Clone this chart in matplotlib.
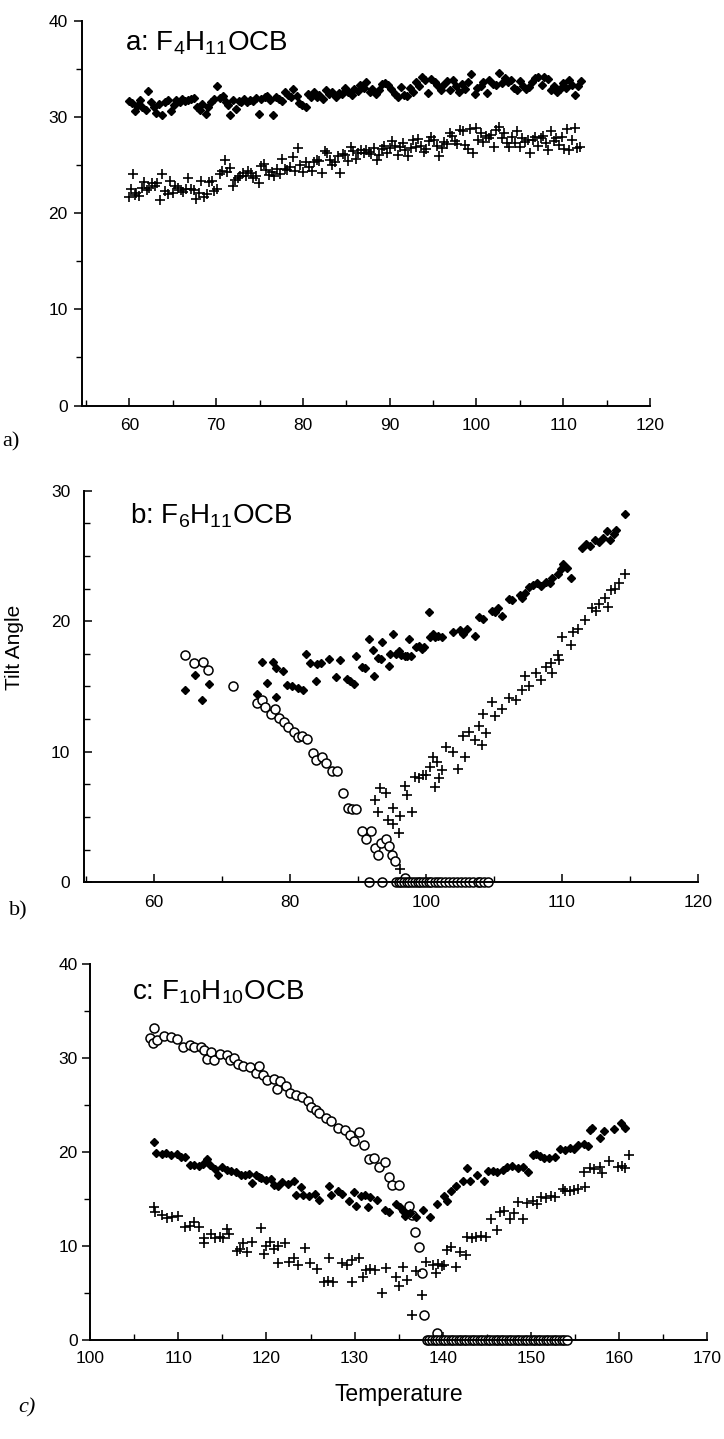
import numpy as np
import matplotlib.pyplot as plt
from matplotlib.ticker import MultipleLocator

plt.rcParams['font.family'] = ['Liberation Sans', 'DejaVu Sans']
plt.rcParams['mathtext.default'] = 'regular'

# ---------------- panel a: F4H11OCB ----------------
a_diam_x = [60.0, 60.3, 60.6, 60.9, 61.2, 61.5, 61.9, 62.2, 62.5, 62.8, 63.1, 63.4, 63.8, 64.1, 64.4, 64.8,
            65.1, 65.4, 65.8, 66.1, 66.4, 66.8, 67.1, 67.4, 67.8, 68.1, 68.4, 68.8, 69.1, 69.4, 69.8, 70.1,
            70.4, 70.8, 71.1, 71.4, 71.6, 71.9, 72.3, 72.6, 72.9, 73.2, 73.6, 73.9, 74.2, 74.6, 74.9, 75.2,
            75.6, 75.9, 76.2, 76.5, 76.9, 77.2, 77.6, 77.9, 78.3, 78.6, 78.9, 79.3, 79.6, 79.9, 80.3, 80.6,
            80.9, 81.3, 81.6, 81.9, 82.3, 82.7, 83.0, 83.4, 83.8, 84.1, 84.5, 84.8, 85.2, 85.6, 85.9, 86.3,
            86.6, 87.0, 87.3, 87.7, 88.0, 88.4, 88.8, 89.1, 89.5, 89.8, 90.2, 90.6, 90.9, 91.3, 91.6, 92.0,
            92.3, 92.7, 93.0, 93.4, 93.7, 94.1, 94.4, 94.8, 95.2, 95.5, 95.9, 96.2, 96.6, 96.9, 97.3, 97.6,
            98.0, 98.3, 98.7, 99.0, 99.4, 99.8, 100.1, 100.5, 100.8, 101.2, 101.5, 101.9, 102.2, 102.6, 102.9,
            103.3, 103.6, 104.0, 104.3, 104.7, 105.0, 105.4, 105.7, 106.1, 106.4, 106.8, 107.1, 107.5, 107.8,
            108.2, 108.6, 108.9, 109.3, 109.6, 110.0, 110.3, 110.7, 111.0, 111.4, 111.7, 112.1]
a_diam_y = [31.7, 31.4, 30.6, 31.1, 31.8, 31.0, 30.7, 32.7, 31.5, 31.0, 30.4, 31.3, 30.2, 31.6, 31.8, 30.6,
            31.2, 31.8, 31.6, 31.9, 31.7, 31.8, 31.9, 32.0, 31.0, 30.7, 31.3, 30.3, 31.0, 31.6, 31.9, 33.2,
            32.0, 32.2, 31.5, 31.2, 30.2, 31.8, 30.8, 31.7, 31.6, 31.9, 31.5, 31.8, 31.7, 32.0, 30.3, 31.9,
            32.1, 32.2, 31.8, 30.2, 32.1, 31.9, 31.7, 32.6, 32.3, 32.1, 32.9, 32.2, 31.4, 31.2, 31.0, 32.4,
            32.1, 32.6, 32.1, 32.3, 31.9, 32.8, 32.4, 32.6, 32.1, 32.5, 32.4, 33.0, 32.6, 32.3, 32.9, 32.7,
            33.3, 33.0, 33.6, 32.6, 32.9, 32.4, 32.8, 33.4, 33.5, 33.3, 32.9, 32.4, 32.1, 33.1, 32.3, 32.2,
            33.0, 32.6, 33.6, 33.2, 34.1, 33.8, 32.5, 33.9, 33.6, 33.3, 32.8, 33.3, 33.7, 32.8, 33.8, 33.2,
            32.6, 33.4, 32.9, 33.6, 34.5, 32.4, 33.0, 33.2, 33.6, 32.5, 33.8, 33.4, 33.3, 34.6, 33.5,
            34.0, 33.6, 33.8, 33.0, 32.8, 33.7, 33.2, 32.9, 33.1, 33.6, 34.0, 34.2, 33.3, 34.1,
            33.9, 32.8, 33.2, 32.6, 32.9, 33.5, 33.0, 33.8, 33.3, 32.3, 33.2, 33.7]

a_cross_x = [60.0, 60.2, 60.4, 60.6, 60.8, 61.1, 61.4, 61.7, 62.0, 62.3, 62.6, 62.9, 63.2, 63.5, 63.8, 64.1,
             64.4, 64.7, 65.0, 65.3, 65.6, 65.9, 66.2, 66.5, 66.8, 67.1, 67.4, 67.7, 68.0, 68.3, 68.6, 68.9,
             69.2, 69.5, 69.8, 70.1, 70.4, 70.7, 71.0, 71.3, 71.6, 71.9, 72.2, 72.5, 72.8, 73.1, 73.4, 73.7,
             74.0, 74.3, 74.6, 74.9, 75.2, 75.5, 75.8, 76.1, 76.4, 76.7, 77.0, 77.3, 77.6, 77.9, 78.2, 78.5,
             78.8, 79.1, 79.4, 79.7, 80.0, 80.4, 80.7, 81.0, 81.3, 81.6, 81.9, 82.2, 82.5, 82.8, 83.1, 83.4,
             83.7, 84.0, 84.3, 84.6, 84.9, 85.2, 85.5, 85.8, 86.1, 86.4, 86.7, 87.0, 87.3, 87.6, 87.9, 88.2,
             88.5, 88.8, 89.1, 89.4, 89.7, 90.0, 90.3, 90.6, 90.9, 91.2, 91.5, 91.8, 92.1, 92.4, 92.7, 93.0,
             93.3, 93.6, 93.9, 94.2, 94.5, 94.8, 95.1, 95.4, 95.7, 96.0, 96.3, 96.6, 96.9, 97.2, 97.5, 97.8,
             98.1, 98.4, 98.7, 99.0, 99.3, 99.6, 99.9, 100.2, 100.5, 100.8, 101.1, 101.4, 101.7, 102.0, 102.3,
             102.6, 102.9, 103.2, 103.5, 103.8, 104.1, 104.4, 104.7, 105.0, 105.3, 105.6, 105.9, 106.2, 106.5,
             106.8, 107.1, 107.4, 107.7, 108.0, 108.3, 108.6, 108.9, 109.2, 109.5, 109.8, 110.1, 110.4, 110.7,
             111.0, 111.3, 111.6, 111.9]
a_cross_y = [21.7, 22.5, 24.1, 21.9, 22.1, 21.8, 22.6, 23.2, 22.4, 22.6, 23.1, 22.8, 23.1, 21.4, 24.1, 22.3,
             22.0, 23.3, 22.1, 22.8, 22.6, 22.4, 22.2, 22.5, 23.7, 22.5, 22.4, 21.5, 22.1, 23.3, 21.7, 22.0,
             23.2, 23.3, 22.3, 22.5, 24.1, 24.4, 25.5, 24.3, 24.7, 22.8, 23.4, 23.6, 23.9, 24.2, 23.9, 24.4,
             24.2, 23.6, 23.9, 23.1, 24.9, 25.1, 24.5, 24.0, 24.3, 23.9, 24.6, 24.1, 25.6, 24.6, 24.5, 24.8,
             25.8, 24.4, 26.8, 25.0, 24.3, 25.3, 24.8, 24.4, 25.3, 25.5, 25.4, 24.2, 26.5, 26.2, 25.5, 25.0,
             25.3, 25.9, 24.2, 26.1, 26.0, 25.4, 26.9, 26.5, 25.6, 26.3, 26.6, 26.2, 26.6, 26.4, 26.1, 26.8,
             25.5, 26.0, 26.7, 27.0, 26.3, 26.8, 27.5, 27.0, 26.0, 26.9, 27.3, 26.6, 25.9, 26.8, 27.6, 26.9,
             27.7, 27.0, 26.4, 26.7, 27.5, 27.9, 27.6, 27.0, 25.9, 26.8, 27.4, 27.2, 28.3, 28.0, 27.5, 27.2,
             28.6, 28.5, 27.1, 26.7, 28.7, 26.2, 28.9, 27.6, 28.3, 27.4, 28.0, 27.8, 28.1, 26.9, 28.6,
             29.0, 27.8, 28.3, 27.3, 26.9, 27.9, 27.3, 28.5, 26.9, 27.8, 27.4, 27.6, 26.2, 27.6,
             27.9, 27.0, 27.8, 28.0, 27.3, 26.6, 28.5, 27.5, 27.8, 27.1, 27.9, 26.7, 28.7, 26.6,
             27.6, 28.9, 26.8, 26.9]

# ---------------- panel b: F6H11OCB ----------------
# axis printed with labels 60, 80, 100, 110, 120 on equally spaced ticks
b_xticks = [80, 90, 100, 110, 120]
b_xtick_labels = ['60', '80', '100', '110', '120']

b_diam_x = [82.3, 83.05, 83.56, 84.07, 87.6, 87.97, 88.3, 88.8, 89.0, 89.0, 89.5, 89.8, 90.2, 90.6, 91.0,
            91.2, 91.5, 91.9, 92.0, 92.3, 92.9, 93.4, 93.7, 94.2, 94.4, 94.7, 94.9, 95.3, 95.5, 95.8, 96.1,
            96.2, 96.5, 96.7, 96.8, 97.3, 97.4, 97.6, 97.8, 98.0, 98.2, 98.5, 98.8, 98.6, 98.9, 99.3, 99.5,
            99.7, 99.9, 100.2, 100.3, 100.5, 100.7, 100.9, 101.2, 102.0, 102.5, 102.7, 103.0, 103.6, 103.9,
            104.2, 104.9, 105.1, 105.3, 105.6, 106.1, 106.3, 106.9, 107.1, 107.3, 107.6, 107.9, 108.2, 108.5,
            108.8, 109.1, 109.3, 109.7, 109.9, 110.1, 110.4, 110.7, 111.5, 111.8, 112.1, 112.4, 112.7, 113.0,
            113.3, 113.5, 113.8, 114.0, 114.6]
b_diam_y = [14.7, 15.9, 14.0, 15.2, 14.4, 16.9, 15.3, 16.9, 16.4, 14.2, 16.2, 15.1, 15.0, 14.9, 14.7,
            17.5, 16.8, 15.4, 16.7, 16.8, 17.1, 15.7, 17.0, 15.6, 15.4, 15.2, 17.3, 16.5, 16.4, 18.6, 17.8,
            15.8, 17.2, 17.1, 18.4, 16.6, 17.5, 19.0, 17.5, 17.7, 17.4, 17.3, 18.6, 17.3, 17.3, 18.0, 18.1,
            17.9, 18.0, 20.7, 18.8, 19.0, 18.8, 18.9, 18.8, 19.2, 19.3, 19.0, 19.4, 18.9, 20.3,
            20.2, 20.8, 20.7, 21.0, 20.4, 21.7, 21.6, 22.0, 21.8, 22.2, 22.6, 22.8, 22.9, 22.7,
            23.0, 22.9, 23.3, 23.6, 24.0, 24.4, 24.1, 23.3, 25.6, 25.9, 25.8, 26.2, 26.1, 26.4,
            26.9, 26.2, 26.7, 27.0, 28.2]

b_cross_x = [96.3, 96.6, 96.5, 97.1, 97.2, 97.6, 97.6, 98.0, 98.1, 98.1, 98.5, 98.6, 99.0, 99.2, 99.5,
             99.8, 100.0, 100.3, 100.5, 100.7, 100.8, 101.0, 101.2, 101.5, 102.0, 102.4, 102.9, 102.7, 103.2,
             103.6, 103.9, 104.1, 104.4, 104.2, 104.9, 105.1, 105.6, 106.1, 106.6, 107.1, 107.3, 107.6, 108.1,
             108.5, 108.8, 109.2, 109.3, 109.7, 109.8, 110.0, 110.7, 110.8, 111.2, 111.7, 112.2, 112.5, 112.7,
             113.2, 113.4, 113.6, 113.9, 114.2, 114.6]
b_cross_y = [6.3, 7.2, 5.4, 6.8, 4.8, 5.7, 4.5, 3.8, 5.1, 1.0, 7.4, 6.7, 5.4, 8.1, 8.0,
             8.2, 8.2, 8.8, 9.6, 7.3, 9.2, 8.0, 8.6, 10.4, 10.0, 8.7, 9.6, 11.2, 11.5,
             10.9, 12.0, 10.5, 11.4, 12.9, 13.8, 12.7, 13.3, 14.1, 14.0, 14.7, 15.8, 15.0, 16.0,
             15.5, 16.5, 16.8, 16.0, 17.4, 17.0, 18.8, 18.2, 19.2, 19.4, 20.1, 21.0, 20.8, 21.3,
             21.8, 21.1, 22.4, 22.5, 22.9, 23.6]

b_circ_x = [82.3, 83.0, 83.6, 84.0, 85.8, 87.6, 88.0, 88.2, 88.6, 88.9, 89.2, 89.6, 89.9, 90.3, 90.6,
            90.9, 91.3, 91.7, 91.9, 92.4, 92.7, 93.1, 93.5, 93.9, 94.3, 94.6, 94.9, 95.3, 95.6, 96.0,
            96.3, 96.5, 96.7, 97.1, 97.3, 97.5, 97.7, 98.5, 95.8, 96.8,
            97.8, 98.0, 98.2, 98.4, 98.6, 98.8, 99.0, 99.2, 99.4, 99.6, 99.8, 100.0, 100.2, 100.4, 100.7,
            100.9, 101.1, 101.4, 101.7, 102.0, 102.3, 102.6, 102.9, 103.2, 103.5, 103.8, 104.0, 104.3, 104.6]
b_circ_y = [17.4, 16.8, 16.9, 16.3, 15.0, 13.7, 14.0, 13.4, 12.9, 13.3, 12.6, 12.3, 11.9, 11.5, 11.1,
            11.2, 11.0, 9.9, 9.4, 9.6, 9.1, 8.5, 8.5, 6.8, 5.7, 5.6, 5.6, 3.9, 3.3, 3.9,
            2.6, 2.1, 3.0, 3.3, 2.8, 2.1, 1.6, 0.3, 0.0, 0.0,
            0.0, 0.0, 0.0, 0.0, 0.0, 0.0, 0.0, 0.0, 0.0, 0.0, 0.0, 0.0, 0.0, 0.0, 0.0,
            0.0, 0.0, 0.0, 0.0, 0.0, 0.0, 0.0, 0.0, 0.0, 0.0, 0.0, 0.0, 0.0, 0.0]

# ---------------- panel c: F10H10OCB ----------------
c_circ_x = [106.8, 107.25, 107.1, 107.6, 108.4, 109.2, 109.8, 110.5, 111.3, 111.8, 112.6, 112.9, 113.2,
            113.7, 114.0, 114.7, 115.5, 115.9, 116.3, 116.8, 117.3, 118.1, 118.8, 119.2, 119.6, 120.1,
            120.8, 121.2, 121.5, 122.2, 122.7, 123.4, 124.0, 124.7, 125.1, 125.6, 126.0, 126.8, 127.3,
            128.1, 128.9, 129.5, 129.9, 130.5, 131.1, 131.6, 132.2, 132.8, 133.4, 133.9, 134.3, 135.0,
            136.2, 136.5, 136.9, 137.3, 137.6, 137.9, 139.4,
            138.2, 138.5, 138.8, 139.1, 139.4, 139.7, 140.0, 140.3, 140.6, 140.9, 141.2, 141.5, 141.8,
            142.1, 142.4, 142.7, 143.0, 143.3, 143.6, 143.9, 144.2, 144.5, 144.8, 145.1, 145.4, 145.7,
            146.0, 146.3, 146.6, 146.9, 147.2, 147.5, 147.8, 148.1, 148.4, 148.7, 149.0, 149.3, 149.6,
            149.9, 150.2, 150.5, 150.8, 151.1, 151.4, 151.7, 152.0, 152.3, 152.6, 152.9, 153.2, 153.5,
            153.8, 154.1]
c_circ_y = [32.1, 33.2, 31.6, 31.9, 32.3, 32.2, 32.0, 31.2, 31.4, 31.2, 31.2, 30.9, 29.9,
            30.6, 29.8, 30.4, 30.3, 29.8, 30.0, 29.4, 29.1, 29.0, 28.4, 29.1, 28.2, 27.7,
            27.8, 26.7, 27.6, 27.0, 26.3, 26.1, 25.8, 25.4, 24.8, 24.5, 24.1, 23.6, 23.3,
            22.6, 22.3, 21.8, 21.2, 22.1, 20.7, 19.3, 19.4, 18.4, 18.9, 17.3, 16.5, 16.5,
            14.3, 13.3, 11.5, 9.9, 7.1, 2.7, 0.7,
            0.0, 0.0, 0.0, 0.0, 0.0, 0.0, 0.0, 0.0, 0.0, 0.0, 0.0, 0.0, 0.0,
            0.0, 0.0, 0.0, 0.0, 0.0, 0.0, 0.0, 0.0, 0.0, 0.0, 0.0, 0.0, 0.0,
            0.0, 0.0, 0.0, 0.0, 0.0, 0.0, 0.0, 0.0, 0.0, 0.0, 0.0, 0.0, 0.0,
            0.0, 0.0, 0.0, 0.0, 0.0, 0.0, 0.0, 0.0, 0.0, 0.0, 0.0, 0.0, 0.0,
            0.0, 0.0]

c_diam_x = [107.25, 107.5, 108.1, 108.6, 109.2, 109.8, 110.3, 110.8, 111.3, 111.8, 112.3, 112.8, 113.3,
            113.6, 114.1, 114.5, 114.9, 115.5, 116.0, 116.5, 117.1, 117.6, 118.0, 118.4, 118.8, 119.2,
            119.4, 119.9, 120.5, 120.8, 121.3, 121.8, 122.4, 123.1, 123.4, 123.9, 124.2, 124.8, 125.5,
            126.0, 127.1, 127.3, 128.1, 128.6, 129.4, 129.9, 130.2, 130.7, 131.2, 131.5, 131.8, 132.6,
            133.4, 133.9, 134.7, 135.2, 135.5, 135.7, 136.3, 137.0, 137.8, 138.6, 139.4, 140.2, 140.5,
            141.0, 141.5, 142.3, 142.8, 143.1, 143.9, 144.7, 145.2, 145.7, 146.2, 146.8, 147.3, 147.9,
            148.5, 149.1, 149.7, 150.2, 150.6, 151.0, 151.5, 152.1, 152.8, 153.3, 153.9, 154.4, 154.9,
            155.4, 156.0, 156.5, 156.7, 157.0, 157.8, 158.3, 159.4, 160.2, 160.7]
c_diam_y = [21.1, 19.9, 19.8, 19.9, 19.7, 19.8, 19.5, 19.5, 18.6, 18.6, 18.5, 18.7, 19.3,
            18.6, 18.2, 17.6, 18.4, 18.1, 18.0, 17.9, 17.5, 17.6, 17.7, 16.7, 17.5, 17.3,
            17.2, 17.0, 17.1, 16.5, 16.4, 16.8, 16.6, 16.9, 15.4, 16.3, 15.4, 15.3, 15.5,
            14.9, 16.4, 15.4, 15.9, 15.5, 14.8, 15.7, 14.3, 15.3, 15.4, 14.1, 15.2, 14.9,
            13.8, 13.6, 14.5, 14.1, 13.7, 13.2, 13.5, 13.1, 13.8, 13.1, 14.5, 15.3, 14.8,
            15.9, 16.4, 16.9, 18.3, 16.9, 17.5, 16.9, 18.0, 18.0, 17.9, 18.1, 18.4, 18.5,
            18.3, 18.4, 17.9, 19.7, 19.8, 19.6, 19.4, 19.4, 19.5, 20.3, 20.2, 20.4, 20.3,
            20.7, 20.8, 20.6, 22.3, 22.5, 21.5, 22.2, 22.4, 23.1, 22.6]

c_cross_x = [107.25, 107.4, 108.1, 108.7, 109.3, 109.9, 110.8, 111.3, 111.8, 112.3, 112.9, 112.9, 113.7,
             114.2, 114.7, 115.1, 115.5, 115.8, 116.6, 117.0, 117.3, 117.8, 118.4, 119.4, 119.7, 119.9,
             120.4, 120.9, 121.3, 121.3, 122.1, 122.6, 123.1, 123.6, 124.4, 124.9, 125.7, 126.5, 127.0,
             127.1, 127.6, 128.6, 129.1, 129.7, 129.7, 130.5, 131.0, 131.3, 131.8, 132.3, 133.1, 133.6,
             134.7, 135.0, 135.5, 136.0, 136.5, 137.0, 137.6, 138.1, 138.9, 139.2, 139.5, 139.9, 140.2,
             140.5, 141.0, 141.5, 142.0, 142.6, 142.8, 143.3, 143.8, 144.4, 144.9, 145.5, 146.2, 146.5,
             147.0, 147.6, 148.1, 148.6, 149.1, 149.6, 150.2, 150.7, 151.2, 151.7, 152.3, 152.8, 153.6,
             153.9, 154.4, 154.9, 155.4, 156.0, 156.2, 156.7, 157.2, 157.8, 158.1, 158.9, 159.9, 160.4,
             160.7, 161.2]
c_cross_y = [14.2, 13.6, 13.3, 13.0, 13.1, 13.2, 12.0, 12.1, 12.6, 12.0, 10.3, 10.8, 11.3,
             10.9, 11.0, 10.8, 11.8, 11.3, 9.5, 9.7, 10.3, 9.4, 10.4, 11.9, 9.2, 10.0,
             10.4, 9.7, 8.2, 10.0, 10.3, 8.3, 8.7, 8.0, 9.8, 8.2, 7.5, 6.2, 6.3,
             8.7, 6.2, 8.2, 8.0, 6.2, 8.5, 8.7, 6.7, 7.4, 7.5, 7.4, 5.0, 7.7,
             6.7, 5.7, 7.8, 6.4, 2.7, 7.3, 4.8, 8.3, 8.0, 7.1, 8.1, 7.9, 8.0,
             9.6, 9.9, 7.8, 9.4, 9.0, 11.0, 10.9, 11.0, 11.1, 11.0, 12.9, 11.7, 13.6,
             13.7, 12.9, 13.5, 14.7, 12.9, 14.6, 14.8, 14.5, 15.2, 15.1, 15.3, 15.2, 16.1,
             15.9, 15.8, 16.0, 16.1, 17.9, 16.3, 18.3, 18.2, 18.4, 17.8, 19.0, 18.4, 18.5,
             18.3, 19.7]

diam = dict(linestyle='none', marker='D', markersize=3.8, color='black')
cross = dict(linestyle='none', marker='+', markersize=7, markeredgewidth=1.2, color='black')
circ = dict(linestyle='none', marker='o', markersize=6.5, markerfacecolor='white',
            markeredgecolor='black', markeredgewidth=1.1)


def style_axes(ax, ydir, ypad, xpad):
    ax.spines['top'].set_visible(False)
    ax.spines['right'].set_visible(False)
    ax.spines['left'].set_linewidth(1.4)
    ax.spines['bottom'].set_linewidth(1.4)
    ax.tick_params(axis='y', which='major', direction=ydir, length=6, width=1.1, labelsize=12.5, pad=ypad)
    ax.tick_params(axis='y', which='minor', direction=ydir, length=4, width=1.0)
    ax.tick_params(axis='x', which='major', direction='in', length=6, width=1.1, labelsize=12.5, pad=xpad)
    ax.tick_params(axis='x', which='minor', direction='in', length=4, width=1.0)


fig = plt.figure(figsize=(7.24, 14.39), dpi=100)

# panel a
ax1 = fig.add_axes([0.1128, 0.7182, 0.785, 0.2674])
ax1.plot(a_diam_x, a_diam_y, **diam)
ax1.plot(a_cross_x, a_cross_y, **cross)
ax1.set_xlim(54.5, 120)
ax1.set_ylim(0, 40)
ax1.xaxis.set_major_locator(MultipleLocator(10))
ax1.xaxis.set_minor_locator(MultipleLocator(5))
ax1.yaxis.set_major_locator(MultipleLocator(10))
ax1.yaxis.set_minor_locator(MultipleLocator(5))
style_axes(ax1, 'out', 4, 9)
ax1.text(59.5, 36.9, 'a: F$_4$H$_{11}$OCB', fontsize=20)

# panel b
ax2 = fig.add_axes([0.1163, 0.3869, 0.8478, 0.2721])
ax2.plot(b_diam_x, b_diam_y, **diam)
ax2.plot(b_cross_x, b_cross_y, **cross)
ax2.plot(b_circ_x, b_circ_y, clip_on=False, **circ)
ax2.set_xlim(74.9, 120)
ax2.set_ylim(0, 30)
ax2.set_xticks(b_xticks)
ax2.set_xticklabels(b_xtick_labels)
ax2.xaxis.set_minor_locator(MultipleLocator(5))
ax2.yaxis.set_major_locator(MultipleLocator(10))
ax2.yaxis.set_minor_locator(MultipleLocator(2.5))
style_axes(ax2, 'in', 10, 9)
ax2.text(78.3, 27.5, 'b: F$_6$H$_{11}$OCB', fontsize=20)
ax2.set_ylabel('Tilt Angle', fontsize=15)
ax2.yaxis.set_label_coords(-0.098, 0.6)

# panel c
ax3 = fig.add_axes([0.1247, 0.0688, 0.8518, 0.2613])
ax3.plot(c_circ_x, c_circ_y, clip_on=False, **circ)
ax3.plot(c_diam_x, c_diam_y, **diam)
ax3.plot(c_cross_x, c_cross_y, **cross)
ax3.set_xlim(100, 170)
ax3.set_ylim(0, 40)
ax3.xaxis.set_major_locator(MultipleLocator(10))
ax3.xaxis.set_minor_locator(MultipleLocator(5))
ax3.yaxis.set_major_locator(MultipleLocator(10))
ax3.yaxis.set_minor_locator(MultipleLocator(5))
style_axes(ax3, 'out', 3, 8)
ax3.text(104.7, 36.2, 'c: F$_{10}$H$_{10}$OCB', fontsize=20)
ax3.set_xlabel('Temperature', fontsize=16.5, labelpad=12)

# panel letters
fig.text(0.003, 0.693, 'a)', fontsize=16, family='Liberation Serif', va='center')
fig.text(0.012, 0.367, 'b)', fontsize=16, family='Liberation Serif', va='center')
fig.text(0.025, 0.0215, 'c)', fontsize=16, family='Liberation Serif', style='italic', va='center')

fig.savefig('out.png', dpi=100)
